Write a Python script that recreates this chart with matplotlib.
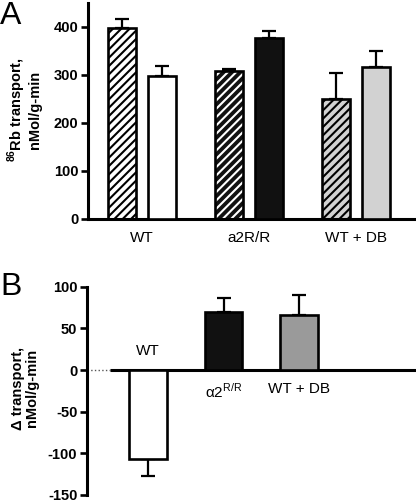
import matplotlib
matplotlib.use("Agg")
import matplotlib.pyplot as plt
import numpy as np

plt.rcParams['font.family'] = ['Liberation Sans', 'DejaVu Sans']
plt.rcParams['hatch.linewidth'] = 1.5
plt.rcParams['axes.unicode_minus'] = False

# ---- data, panel A ----
groups_a = ['WT', 'a2R/R', 'WT + DB']
hatched_vals = [398, 308, 250]     # hatched bar of each pair
hatched_err = [19, 5, 54]
plain_vals = [298, 377, 316]
plain_err = [21, 15, 34]
a_colors = ['white', '#111111', '#d2d2d2']
a_hatch_colors = ['black', 'white', 'black']

# ---- data, panel B ----
groups_b = ['WT', 'α2$^{\\mathregular{R/R}}$', 'WT + DB']
delta_vals = [-107, 70, 66]
delta_err = [20, 16, 24]
b_colors = ['white', '#111111', '#9a9a9a']

W, H = 416, 504
fig = plt.figure(figsize=(W / 100, H / 100), dpi=100)

lw = 1.9

# ====================== PANEL A ======================
axA = fig.add_axes([88 / W, 1 - 219 / H, (414 - 88) / W, 216 / H])
x = np.arange(len(groups_a))
off = 0.187
bw = 0.26
for i in range(len(groups_a)):
    # hatched bar: fill + hatch, then black outline
    axA.bar(x[i] - off, hatched_vals[i], bw, color=a_colors[i], edgecolor=a_hatch_colors[i],
            hatch='////', linewidth=0, zorder=2)
    axA.bar(x[i] - off, hatched_vals[i], bw, fill=False, edgecolor='black', linewidth=lw, zorder=3)
    axA.errorbar(x[i] - off, hatched_vals[i], yerr=[[0], [hatched_err[i]]], fmt='none',
                 ecolor='black', elinewidth=1.6, capsize=5, capthick=1.6, zorder=1)
    axA.bar(x[i] + off, plain_vals[i], bw, color=a_colors[i], edgecolor='black',
            linewidth=lw, zorder=3)
    axA.errorbar(x[i] + off, plain_vals[i], yerr=[[0], [plain_err[i]]], fmt='none',
                 ecolor='black', elinewidth=1.6, capsize=5, capthick=1.6, zorder=1)

axA.set_xlim((88 - 142) / 107, (414 - 142) / 107)
axA.set_ylim(0, 450)
axA.set_yticks([0, 100, 200, 300, 400])
axA.set_xticks(x)
axA.set_xticklabels(groups_a, fontsize=11)
axA.tick_params(axis='x', length=0, pad=9)
axA.tick_params(axis='y', direction='out', length=5, width=lw, labelsize=10.5, pad=2)
for lab in axA.get_yticklabels():
    lab.set_fontweight('bold')
for s in ['top', 'right']:
    axA.spines[s].set_visible(False)
for s in ['left', 'bottom']:
    axA.spines[s].set_linewidth(2.2)

fig.text(24 / W, 1 - 110 / H, '$^{\\mathregular{86}}$Rb transport,\nnMol/g-min', rotation=90,
         ha='center', va='center', fontsize=10.5, fontweight='bold', linespacing=1.0)
fig.text(0 / W, 1 - 16 / H, 'A', ha='left', va='center', fontsize=23)

# ====================== PANEL B ======================
axB = fig.add_axes([87 / W, 1 - 495 / H, (416 - 87) / W, (495 - 286.7) / H])
xb = np.arange(len(groups_b))
bwb = 0.50
axB.bar(xb, delta_vals, bwb, color=b_colors, edgecolor='black', linewidth=lw, zorder=3)
for i in range(len(groups_b)):
    sgn = np.sign(delta_vals[i])
    yerr = [[delta_err[i]], [0]] if sgn < 0 else [[0], [delta_err[i]]]
    axB.errorbar(xb[i], delta_vals[i], yerr=yerr, fmt='none', ecolor='black',
                 elinewidth=1.6, capsize=5, capthick=1.6, zorder=1)

left_b = (87 - 148) / 75.5
right_b = (416 - 148) / 75.5
start_solid = (110 - 148) / 75.5
axB.plot([left_b, start_solid], [0, 0], color='#555555', linestyle=':', linewidth=1.0, zorder=1)
axB.plot([start_solid, right_b], [0, 0], color='black', linewidth=2.2, zorder=2,
         solid_capstyle='butt')

axB.set_xlim(left_b, right_b)
axB.set_ylim(-150, 100)
axB.set_yticks([-150, -100, -50, 0, 50, 100])
axB.set_xticks([])
axB.tick_params(axis='y', direction='out', length=5, width=lw, labelsize=10.5, pad=2)
for lab in axB.get_yticklabels():
    lab.set_fontweight('bold')
for s in ['top', 'right', 'bottom']:
    axB.spines[s].set_visible(False)
axB.spines['left'].set_linewidth(2.2)

# group labels in panel B
axB.text(xb[0], 14, groups_b[0], ha='center', va='bottom', fontsize=11)
axB.text(xb[1], -14, groups_b[1], ha='center', va='top', fontsize=11)
axB.text(xb[2], -14, groups_b[2], ha='center', va='top', fontsize=11)

fig.text(25 / W, 1 - 388 / H, '\u0394 transport,\nnMol/g-min', rotation=90,
         ha='center', va='center', fontsize=10.5, fontweight='bold', linespacing=1.0)
fig.text(0 / W, 1 - 287 / H, 'B', ha='left', va='center', fontsize=23)

fig.savefig('out.png', dpi=100)
